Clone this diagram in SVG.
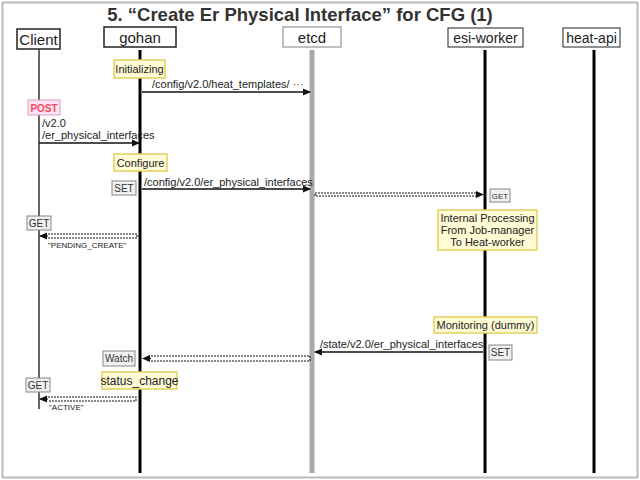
<svg xmlns="http://www.w3.org/2000/svg" width="640" height="480" viewBox="0 0 640 480">
<defs>
<style>
text{font-family:"Liberation Sans",Arial,sans-serif;fill:#222}
.actor{fill:#fff;stroke:#222;stroke-width:1.5}
.t{font-size:15px;text-anchor:middle}
.note{fill:#fffbd5;stroke:#e3cf5c;stroke-width:1.5}
.nt{font-size:11px;text-anchor:middle}
.tag{fill:#f0f0f0;stroke:#888;stroke-width:1}
.tt{font-size:10px;text-anchor:middle;fill:#333}
.msg{stroke:#111;stroke-width:1.3;fill:none}
.dot{stroke:#111;stroke-width:1.1;stroke-dasharray:2 1;fill:none}
.lbl{font-size:11px}
.sm{font-size:8px}
</style>
<marker id="ah" markerWidth="8" markerHeight="8" refX="7" refY="4" orient="auto" markerUnits="userSpaceOnUse">
<path d="M0,0.5 L8,4 L0,7.5 Z" fill="#111"/>
</marker>
</defs>
<rect x="0" y="0" width="640" height="480" fill="#fff"/>
<rect x="2.5" y="2.5" width="635" height="475" fill="none" stroke="#bbb" stroke-width="2"/>
<text x="300" y="21" style="font-size:18.5px;font-weight:bold;text-anchor:middle;fill:#333">5. “Create Er Physical Interface” for CFG (1)</text>

<g id="client">
<rect class="actor" x="17" y="29" width="43" height="20"/>
<text class="t" x="38.5" y="45">Client</text>
<line x1="39" y1="49" x2="39" y2="409" stroke="#333" stroke-width="1.5"/>
</g>
<g id="gohan">
<rect class="actor" x="104" y="27" width="72" height="20"/>
<text class="t" x="140" y="43">gohan</text>
<line x1="140" y1="50" x2="140" y2="473" stroke="#000" stroke-width="3"/>
</g>
<g id="etcd">
<rect x="283" y="27" width="58" height="20" fill="#fff" stroke="#aaa" stroke-width="1.5"/>
<text class="t" x="312" y="43">etcd</text>
<line x1="312" y1="50" x2="312" y2="473" stroke="#aaa" stroke-width="5"/>
</g>
<g id="esi-worker">
<rect class="actor" x="448" y="28" width="75" height="19" style="stroke-width:1"/>
<text class="t" x="485.5" y="43" style="font-size:14px">esi-worker</text>
<line x1="485" y1="50" x2="485" y2="473" stroke="#000" stroke-width="3"/>
</g>
<g id="heat-api">
<rect class="actor" x="563" y="28" width="57" height="19" style="stroke-width:1"/>
<text class="t" x="591.5" y="43" style="font-size:14px">heat-api</text>
<line x1="594" y1="50" x2="594" y2="473" stroke="#000" stroke-width="3"/>
</g>

<g id="notes">
<rect class="note" x="114" y="60" width="51" height="18"/>
<text class="nt" x="139.5" y="73">Initializing</text>
<rect class="note" x="114" y="154" width="53" height="17"/>
<text class="nt" x="140.5" y="167">Configure</text>
<rect class="note" x="438" y="210" width="99" height="40"/>
<text class="nt" x="487.5" y="222">Internal Processing</text>
<text class="nt" x="487.5" y="234">From Job-manager</text>
<text class="nt" x="487.5" y="246">To Heat-worker</text>
<rect class="note" x="434" y="317" width="103" height="16"/>
<text class="nt" x="485.5" y="329">Monitoring (dummy)</text>
<rect class="note" x="102" y="372" width="75" height="17"/>
<text class="nt" x="139.5" y="385" style="font-size:12px">status_change</text>
</g>

<g id="tags">
<rect x="28" y="100" width="32" height="15" fill="#fde4f4" stroke="#d9a0c8" stroke-width="1"/>
<text x="44" y="111.5" style="font-size:10px;font-weight:bold;text-anchor:middle;fill:#f04a5a">POST</text>
<rect class="tag" x="112" y="181" width="24" height="14"/>
<text class="tt" x="124" y="192">SET</text>
<rect class="tag" x="490" y="189" width="20" height="13"/>
<text class="tt" x="500" y="199" style="font-size:8px">GET</text>
<rect class="tag" x="27" y="216" width="24" height="14"/>
<text class="tt" x="39" y="227">GET</text>
<rect class="tag" x="489" y="345" width="23" height="15"/>
<text class="tt" x="500.5" y="356">SET</text>
<rect class="tag" x="103" y="351" width="32" height="15"/>
<text class="tt" x="119" y="362">Watch</text>
<rect class="tag" x="26" y="378" width="24" height="14"/>
<text class="tt" x="38" y="389">GET</text>
</g>

<g id="connectors">
<line class="msg" x1="142" y1="92" x2="310" y2="92" marker-end="url(#ah)"/>
<text class="lbl" x="152" y="88">/config/v2.0/heat_templates/ <tspan style="fill:#444">···</tspan></text>

<text class="lbl" x="42" y="127">/v2.0</text>
<text class="lbl" x="42" y="139">/er_physical_interfaces</text>
<line class="msg" x1="39" y1="143" x2="139" y2="143" marker-end="url(#ah)"/>

<line class="msg" x1="142" y1="189" x2="310" y2="189" marker-end="url(#ah)"/>
<text class="lbl" x="144" y="186">/config/v2.0/er_physical_interfaces</text>

<path class="dot" d="M476,193 H315 V196 H476"/>
<line x1="476" y1="194.5" x2="483" y2="194.5" stroke="#111" stroke-width="1" marker-end="url(#ah)"/>

<path class="dot" d="M48,234 H137 V238 H48"/>
<line x1="48" y1="236" x2="40" y2="236" stroke="#111" stroke-width="1" marker-end="url(#ah)"/>
<text class="sm" x="48" y="248">"PENDING_CREATE"</text>

<line class="msg" x1="483" y1="352" x2="315" y2="352" marker-end="url(#ah)"/>
<text class="lbl" x="320" y="348">/state/v2.0/er_physical_interfaces</text>

<path class="dot" d="M151,356 H310 V361 H151"/>
<line x1="151" y1="358.5" x2="143" y2="358.5" stroke="#111" stroke-width="1" marker-end="url(#ah)"/>

<path class="dot" d="M48,397 H136 V401 H48"/>
<line x1="48" y1="399" x2="40" y2="399" stroke="#111" stroke-width="1" marker-end="url(#ah)"/>
<text class="sm" x="49" y="410">"ACTIVE"</text>
</g>
</svg>
